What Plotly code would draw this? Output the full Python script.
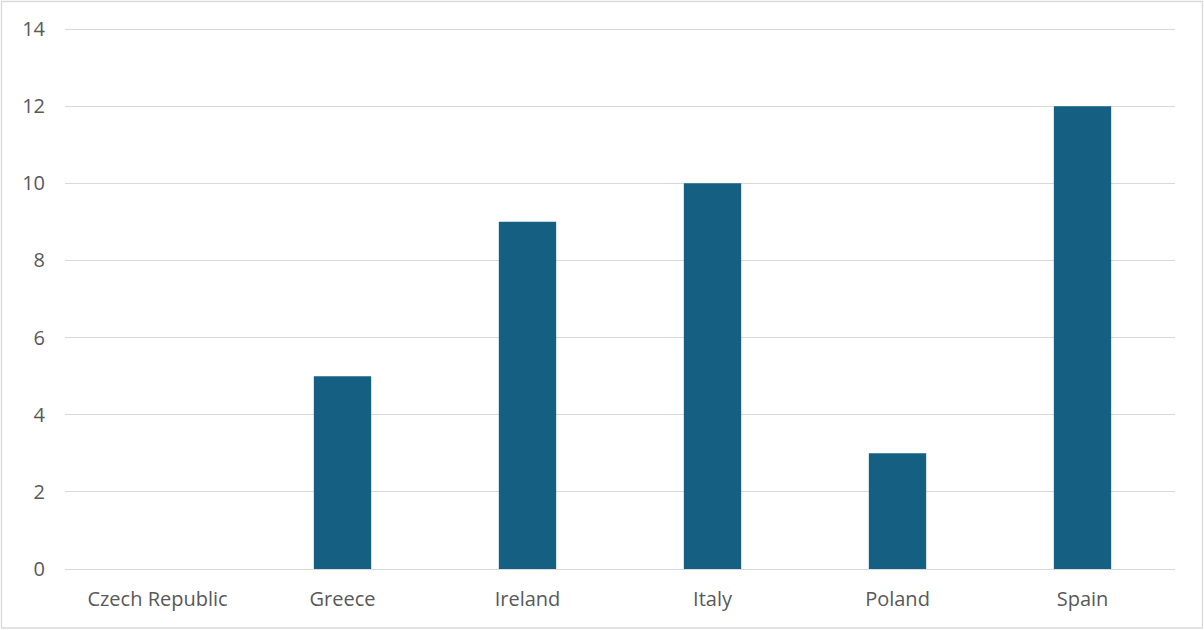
import plotly.graph_objects as go

categories = ["Czech Republic", "Greece", "Ireland", "Italy", "Poland", "Spain"]
values = [0, 5, 9, 10, 3, 12]
y_ticks = [0, 2, 4, 6, 8, 10, 12, 14]

W, H = 1204, 630
L, R, T, B = 65, 29, 27, 61
pw, ph = W - L - R, H - T - B
y_top = y_ticks[-1] * ph / (ph - 2)  # leave 2px headroom so the top gridline draws

def px_to_paper_x(px):
    return (px - L) / pw

def px_to_paper_y(py):
    return (H - B - py) / ph

fig = go.Figure()
fig.add_trace(go.Bar(x=categories, y=values, marker_color="#156082",
                     marker_line_width=0, width=0.31))

font_fam = "Open Sans, Noto Sans, Liberation Sans, sans-serif"
fig.update_layout(
    template="none",
    width=W, height=H,
    margin=dict(l=L, r=R, t=T, b=B, pad=0),
    paper_bgcolor="white", plot_bgcolor="white",
    showlegend=False,
    font=dict(family=font_fam, size=20, color="#595959"),
    xaxis=dict(showgrid=False, zeroline=False, showline=False,
               ticks="", ticklabelstandoff=16, tickfont=dict(size=20, color="#595959")),
    yaxis=dict(range=[0, y_top], tickvals=y_ticks, showgrid=True, gridcolor="#d9d9d9",
               gridwidth=1, zeroline=True, zerolinecolor="#d9d9d9", zerolinewidth=1,
               showline=False, ticks="", ticklabelstandoff=19,
               tickfont=dict(size=20, color="#595959")),
    shapes=[dict(type="rect", xref="paper", yref="paper",
                 x0=px_to_paper_x(1.5), x1=px_to_paper_x(1202.5),
                 y0=px_to_paper_y(628), y1=px_to_paper_y(1.5),
                 line=dict(color="#d9d9d9", width=1.3), fillcolor="rgba(0,0,0,0)",
                 layer="below")],
)
fig.write_html("out.html", config={"displayModeBar": False},
               post_script="document.body.style.margin='0';document.body.style.overflow='hidden';")
